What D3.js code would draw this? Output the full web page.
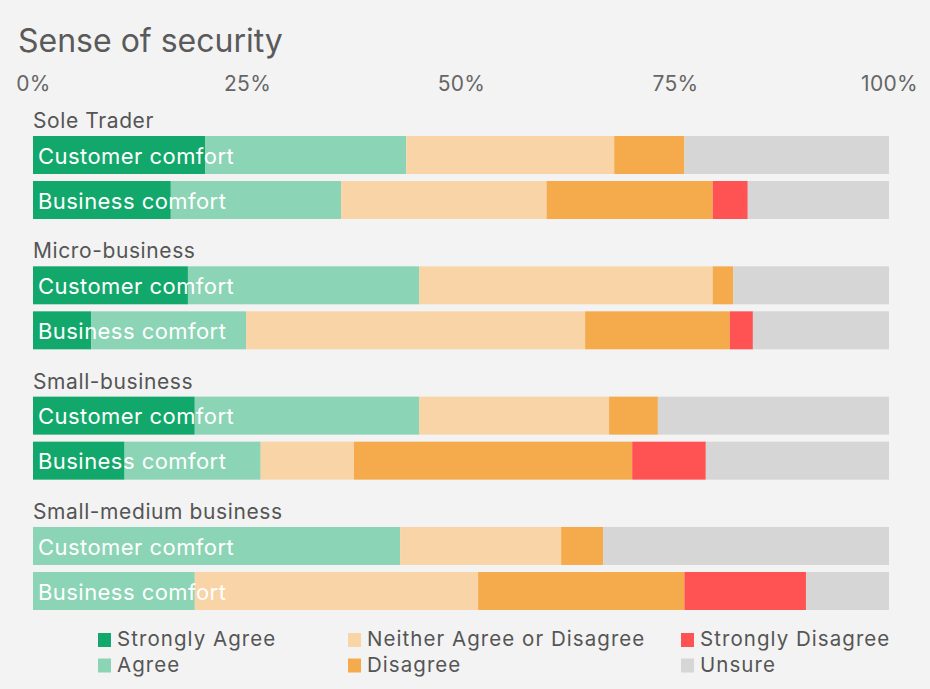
<!DOCTYPE html>
<html>
<head>
<meta charset="utf-8">
<script src="https://cdn.jsdelivr.net/npm/d3@7"></script>
<style>
  html, body { margin: 0; padding: 0; background: #f3f3f3; }
  svg { display: block; }
  text { font-family: "Inter", "Open Sans", sans-serif; }
</style>
</head>
<body>
<svg id="chart" width="930" height="689"></svg>
<script>
// Survey answers, in percent of respondents
const groups = ["Sole Trader", "Micro-business", "Small-business", "Small-medium business"];
const measures = ["Customer comfort", "Business comfort"];
const answers = ["Strongly Agree", "Agree", "Neither Agree or Disagree", "Disagree", "Strongly Disagree", "Unsure"];
const colors = ["#13a86b", "#8bd4b5", "#f9d4a7", "#f5ab4c", "#ff5252", "#d6d6d6"];
const tickValues = [0, 25, 50, 75, 100];

// one array per answer, rows ordered group by group: customer, business
const stronglyAgree    = [20.1, 16.1, 18.1, 6.8, 18.9, 10.7, 0.0, 0.0];
const agree            = [23.5, 19.9, 27.0, 18.1, 26.2, 15.9, 42.9, 18.9];
const neither          = [24.3, 24.0, 34.3, 39.6, 22.2, 10.9, 18.8, 33.1];
const disagree         = [8.2, 19.4, 2.4, 16.9, 5.7, 32.5, 4.9, 24.1];
const stronglyDisagree = [0.0, 4.1, 0.0, 2.7, 0.0, 8.6, 0.0, 14.2];
const unsure           = [23.9, 16.5, 18.2, 15.9, 27.0, 21.4, 33.4, 9.7];

const seriesValues = [stronglyAgree, agree, neither, disagree, stronglyDisagree, unsure];

const rows = [];
groups.forEach((g, gi) => measures.forEach((m, mi) => {
  const i = gi * measures.length + mi;
  const row = { group: g, measure: m };
  answers.forEach((a, ai) => { row[a] = seriesValues[ai][i]; });
  rows.push(row);
}));

const svg = d3.select("#chart");

const x = d3.scaleLinear().domain([0, 100]).range([33, 889]);
const yGroup = d3.scaleBand().domain(groups).range([136, 657.3]);
const yBar = d3.scaleBand().domain(measures).range([0, 83]).paddingInner(0.156);
const color = d3.scaleOrdinal().domain(answers).range(colors);

// title
svg.append("text")
  .attr("x", 18).attr("y", 52)
  .attr("font-size", 32).attr("fill", "#5a5a5a")
  .text("Sense of security");

// percentage axis above the bars
const axis = svg.append("g")
  .attr("transform", "translate(0,91)")
  .call(d3.axisTop(x).tickValues(tickValues).tickFormat(d => d + "%").tickSize(0).tickPadding(0));
axis.select(".domain").remove();
axis.selectAll("text")
  .attr("dy", 0)
  .attr("font-size", 21)
  .attr("fill", "#666")
  .attr("letter-spacing", 0.3)
  .style("font-family", "Inter, 'Open Sans', sans-serif");

// group headings
svg.append("g").selectAll("text")
  .data(groups)
  .join("text")
  .attr("x", 33)
  .attr("y", d => yGroup(d) - 8)
  .attr("font-size", 21)
  .attr("letter-spacing", 0.6)
  .attr("fill", "#555")
  .text(d => d);

// stacked bars
const stack = d3.stack().keys(answers);
const stacked = stack(rows);

svg.append("g").selectAll("g")
  .data(stacked)
  .join("g")
  .attr("fill", d => color(d.key))
  .selectAll("rect")
  .data(d => d)
  .join("rect")
  .attr("x", d => x(d[0]))
  .attr("width", d => x(d[1]) - x(d[0]))
  .attr("y", d => yGroup(d.data.group) + yBar(d.data.measure))
  .attr("height", yBar.bandwidth());

// bar labels
svg.append("g").selectAll("text")
  .data(rows)
  .join("text")
  .attr("x", 38)
  .attr("y", d => yGroup(d.group) + yBar(d.measure) + yBar.bandwidth() / 2)
  .attr("dy", "0.4em")
  .attr("font-size", 22)
  .attr("letter-spacing", 0.45)
  .attr("fill", "#ffffff")
  .text(d => d.measure);

// legend: three columns, two rows
const legendCols = [98, 348, 681];
const legend = svg.append("g").selectAll("g")
  .data(answers)
  .join("g")
  .attr("transform", (d, i) => `translate(${legendCols[Math.floor(i / 2)]},${633 + (i % 2) * 25.5})`);
legend.append("rect")
  .attr("width", 13).attr("height", 14)
  .attr("fill", d => color(d));
legend.append("text")
  .attr("x", 19).attr("y", 13)
  .attr("font-size", 20.5)
  .attr("letter-spacing", 1.05)
  .attr("fill", "#555")
  .text(d => d);
</script>
</body>
</html>
